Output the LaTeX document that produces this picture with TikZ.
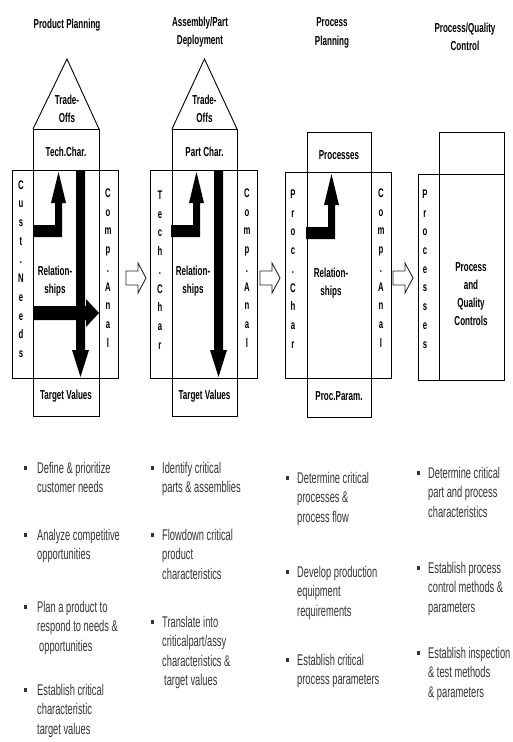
\documentclass[tikz,border=0pt]{standalone}
\usepackage{fontspec}
\setmainfont{Liberation Sans}
\newfontfamily\condfont[FakeStretch=0.62]{Liberation Sans}
\newfontfamily\listfont[FakeStretch=0.6]{Liberation Sans}
\usetikzlibrary{shapes.geometric, arrows.meta, positioning}

\begin{document}
\begin{tikzpicture}[
        x=1pt, y=-1pt,
        frame/.style={draw=black, line width=0.9pt},
        hdr/.style={
            align=center,
            inner sep=0pt,
            font=\condfont\fontsize{13}{18.5}\selectfont\bfseries
        },
        cell/.style={
            align=center,
            inner sep=0pt,
            font=\condfont\fontsize{13}{18}\selectfont\bfseries
        },
        letters/.style={
            align=center,
            inner sep=0pt,
            font=\condfont\fontsize{12.5}{18.7}\selectfont\bfseries
        },
        item/.style={
            align=left,
            anchor=north west,
            inner sep=0pt,
            text=black!80,
            font=\listfont\fontsize{15.5}{19.5}\selectfont
        },
        hollow/.style={draw=black!85, line width=0.9pt, fill=white},
        solid/.style={fill=black}
    ]

    \useasboundingbox (0,0) rectangle (513,742);

    % titles
    \node (title1) [hdr] at (67,25)  {Product Planning};
    \node (title2) [hdr] at (200,32) {Assembly/Part\\Deployment};
    \node (title3) [hdr] at (332,33) {Process\\Planning};
    \node (title4) [hdr] at (465,37) {Process/Quality\\Control};

    % product planning
    \draw [frame] (33,129) -- (67,59) -- (99,129);
    \draw [frame] (33,129) rectangle (99,416);
    \draw [frame] (12,170) rectangle (118,378);
    \fill [solid] (33,225) -- (55,225) -- (55,203) -- (51,203) -- (58.5,172)
        -- (66,203) -- (62,203) -- (62,237) -- (33,237) -- cycle;
    \fill [solid] (33,306) -- (86,306) -- (86,299) -- (99,313) -- (86,327)
        -- (86,320) -- (33,320) -- cycle;
    \fill [solid] (76,170) -- (85,170) -- (85,350) -- (89,350) -- (80.5,377)
        -- (72,350) -- (76,350) -- cycle;
    \node (trade1) [cell] at (67,109)  {Trade-\\Offs};
    \node (tech1)  [cell] at (66,152)  {Tech.Char.};
    \node (rel1)   [cell] at (55,281)  {Relation-\\ships};
    \node (tv1)    [cell] at (66,396)  {Target Values};
    \node (cust1)  [letters] at (21,269)  {C\\u\\s\\t\\.\\N\\e\\e\\d\\s};
    \node (comp1)  [letters] at (108,268) {C\\o\\m\\p\\.\\A\\n\\a\\l};

    % assembly / part deployment
    \draw [frame] (172,129) -- (204.5,59) -- (237,129);
    \draw [frame] (172,129) rectangle (237,416);
    \draw [frame] (150,170) rectangle (257,378);
    \fill [solid, shift={(138,0)}] (33,225) -- (55,225) -- (55,203) -- (51,203)
        -- (58.5,172) -- (66,203) -- (62,203) -- (62,237) -- (33,237) -- cycle;
    \fill [solid, shift={(138,0)}] (76,170) -- (85,170) -- (85,350) -- (89,350)
        -- (80.5,377) -- (72,350) -- (76,350) -- cycle;
    \node (trade2) [cell] at (204.5,109) {Trade-\\Offs};
    \node (part2)  [cell] at (204.5,152) {Part Char.};
    \node (rel2)   [cell] at (193,281)   {Relation-\\ships};
    \node (tv2)    [cell] at (204.5,396) {Target Values};
    \node (tech2)  [letters] at (160,270) {T\\e\\c\\h\\.\\C\\h\\a\\r};
    \node (comp2)  [letters] at (247,268) {C\\o\\m\\p\\.\\A\\n\\a\\l};

    % process planning
    \draw [frame] (307,132) rectangle (371,417);
    \draw [frame] (285,172) rectangle (391,378);
    \fill [solid, shift={(273,2)}] (33,225) -- (55,225) -- (55,203) -- (51,203)
        -- (58.5,172) -- (66,203) -- (62,203) -- (62,237) -- (33,237) -- cycle;
    \node (proc3)  [cell] at (339,155) {Processes};
    \node (rel3)   [cell] at (331,283) {Relation-\\ships};
    \node (param3) [cell] at (339,396) {Proc.Param.};
    \node (pchar3) [letters] at (293,269) {P\\r\\o\\c\\.\\C\\h\\a\\r};
    \node (comp3)  [letters] at (381,268) {C\\o\\m\\p\\.\\A\\n\\a\\l};

    % process / quality control
    \draw [frame] (439,132) rectangle (504,174);
    \draw [frame] (418,174) rectangle (504,380);
    \draw [frame] (439,174) -- (439,380);
    \node (procs4) [letters] at (425,269) {P\\r\\o\\c\\e\\s\\s\\e\\s};
    \node (qc4)    [cell] at (471,294) {Process\\and\\Quality\\Controls};

    % hand-over arrows
    \foreach \hx in {126, 260, 393}
        \draw [hollow] (\hx,271) -- (\hx+12,271) -- (\hx+12,263) -- (\hx+20,278)
            -- (\hx+12,293) -- (\hx+12,285) -- (\hx,285) -- cycle;

    % activities
    \foreach \bx/\by in {25/468, 25/535, 25/607, 25/690,
                         152/468, 152/535, 152/622,
                         287/478, 287/572, 287/660,
                         418/473, 418/568, 418/653}
        \fill [black!80] (\bx-1.5,\by-2) rectangle (\bx+1.5,\by+2);

    \node (pp1) [item] at (37,462) {Define \& prioritize\\customer needs};
    \node (pp2) [item] at (37,529) {Analyze competitive\\opportunities};
    \node (pp3) [item] at (37,601) {Plan a product to\\respond to needs \&\\\hspace{2pt}opportunities};
    \node (pp4) [item] at (37,684) {Establish critical\\characteristic\\target values};

    \node (ad1) [item] at (162,462) {Identify critical\\parts \& assemblies};
    \node (ad2) [item] at (162,529) {Flowdown critical\\product\\characteristics};
    \node (ad3) [item] at (162,616) {Translate into\\criticalpart/assy\\characteristics \&\\\hspace{2pt}target values};

    \node (pl1) [item] at (297,472) {Determine critical\\processes \&\\process flow};
    \node (pl2) [item] at (297,566) {Develop production\\equipment\\requirements};
    \node (pl3) [item] at (297,654) {Establish critical\\process parameters};

    \node (qc1) [item] at (428,467) {Determine critical\\part and process\\characteristics};
    \node (qc2) [item] at (428,562) {Establish process\\control methods \&\\parameters};
    \node (qc3) [item] at (428,647) {Establish inspection\\\& test methods\\\& parameters};

\end{tikzpicture}
\end{document}
